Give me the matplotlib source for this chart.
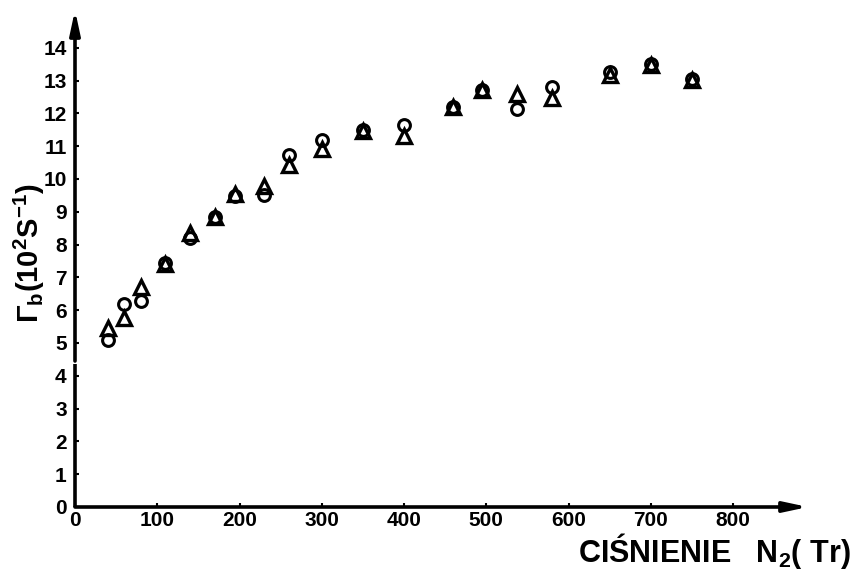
import matplotlib
matplotlib.use("Agg")
import matplotlib.pyplot as plt

# ---- data ----
pressure_circle = [40, 60, 80, 110, 140, 170, 195, 230, 260, 300, 350, 400, 460, 495, 537, 580, 650, 700, 750]
gamma_circle    = [5.1, 6.2, 6.27, 7.45, 8.2, 8.85, 9.48, 9.5, 10.73, 11.2, 11.5, 11.63, 12.2, 12.72, 12.12, 12.8, 13.25, 13.5, 13.05]
pressure_tri    = [40, 60, 80, 110, 140, 170, 195, 230, 260, 300, 350, 400, 460, 495, 537, 580, 650, 700, 750]
gamma_tri       = [5.45, 5.75, 6.72, 7.4, 8.35, 8.85, 9.55, 9.77, 10.43, 10.9, 11.47, 11.3, 12.18, 12.7, 12.6, 12.47, 13.18, 13.48, 13.03]
x_ticks = [0, 100, 200, 300, 400, 500, 600, 700, 800]
y_ticks = list(range(0, 15))
x_label = "CIŚNIENIE   N$_2$( Tr)"
y_label = "Γ$_{\\rm b}$(10$^{2}$S$^{-1}$)"

FONT = "Liberation Sans"
plt.rcParams["font.family"] = [FONT, "DejaVu Sans"]
plt.rcParams["font.weight"] = "bold"
plt.rcParams["mathtext.fontset"] = "custom"
plt.rcParams["mathtext.rm"] = FONT + ":bold"
plt.rcParams["mathtext.bf"] = FONT + ":bold"
plt.rcParams["mathtext.it"] = FONT + ":bold"
plt.rcParams["mathtext.default"] = "regular"

fig = plt.figure(figsize=(8.54, 5.72), dpi=100)
ax = fig.add_axes([75/854, 65/572, (808-75)/854, (507-10)/572])
ax.set_xlim(0, 891)
ax.set_ylim(0, 15.15)

ax.plot(pressure_circle, gamma_circle, linestyle="none", marker="o", markersize=8.5,
        markerfacecolor="none", markeredgecolor="black", markeredgewidth=2.2, clip_on=False)
ax.plot(pressure_tri, gamma_tri, linestyle="none", marker="^", markersize=10,
        markerfacecolor="none", markeredgecolor="black", markeredgewidth=2.4, clip_on=False)

for s in ax.spines.values():
    s.set_visible(False)

# axes with arrows (y axis has a small break near 4.4)
ax.plot([0, 0], [0, 4.35], color="black", lw=2.6, clip_on=False, solid_capstyle="butt")
ax.annotate("", xy=(0, 1.0), xycoords="axes fraction", xytext=(0, 4.45 / 15.15),
            textcoords="axes fraction",
            arrowprops=dict(arrowstyle="-|>,head_length=1.4,head_width=0.3", color="black", lw=2.6,
                            shrinkA=0, shrinkB=0))
ax.annotate("", xy=(1.0, 0), xycoords="axes fraction", xytext=(0, 0), textcoords="axes fraction",
            arrowprops=dict(arrowstyle="-|>,head_length=1.4,head_width=0.3", color="black", lw=2.6,
                            shrinkA=0, shrinkB=0))

ax.set_xticks(x_ticks)
ax.set_xticklabels([str(v) for v in x_ticks], fontweight="bold")
ax.set_yticks(y_ticks)
ax.set_yticklabels([str(v) for v in y_ticks], fontweight="bold")
ax.tick_params(axis="both", direction="in", length=3, width=1.5, labelsize=15, colors="black")
ax.tick_params(axis="x", pad=3)
ax.tick_params(axis="y", pad=6)

fig.text(851/854, 1 - 551/572, x_label, fontsize=22, fontweight="bold", ha="right", va="center")
fig.text(29/854, 1 - 253/572, y_label, fontsize=21, fontweight="bold", rotation=90,
         ha="center", va="center")

fig.savefig("out.png", dpi=100)
